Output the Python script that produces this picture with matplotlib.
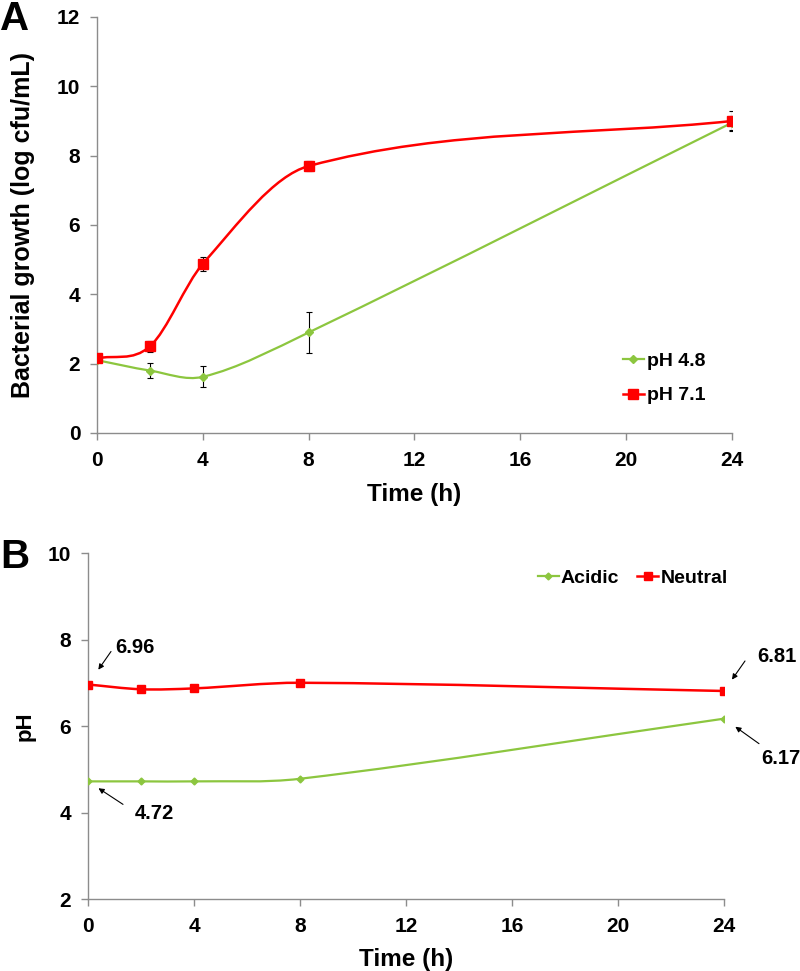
import matplotlib
matplotlib.use("Agg")
import matplotlib.pyplot as plt
from matplotlib.path import Path
from matplotlib.patches import PathPatch
from matplotlib.lines import Line2D
import numpy as np

plt.rcParams['font.family'] = ['Liberation Sans', 'DejaVu Sans']

RED = "#FF0000"
GREEN = "#8CC63F"
AXIS_GRAY = "#8C8C8C"

# panel A: growth
time_a = [0, 2, 4, 8, 24]
growth_acid = [2.1, 1.8, 1.62, 2.9, 8.95]
growth_acid_err = [0.05, 0.22, 0.3, 0.6, 0.2]
growth_neutral = [2.15, 2.5, 4.88, 7.7, 9.0]
growth_neutral_err = [0.05, 0.15, 0.2, 0.15, 0.3]

# panel B: pH of the medium
time_b = [0, 2, 4, 8, 24]
ph_acidic = [4.72, 4.72, 4.72, 4.78, 6.17]
ph_neutral = [6.96, 6.85, 6.87, 7.0, 6.81]

x_ticks = [0, 4, 8, 12, 16, 20, 24]


def smooth_path(x, y):
    # smoothed line like excel: cubic bezier through the points,
    # tangents weighted by the spacing in x
    pts = np.column_stack([x, y]).astype(float)
    n = len(pts)
    tang = []
    for i in range(n):
        a = pts[max(i - 1, 0)]
        b = pts[min(i + 1, n - 1)]
        tang.append((b - a, b[0] - a[0]))
    verts = [pts[0]]
    codes = [Path.MOVETO]
    for i in range(n - 1):
        p1, p2 = pts[i], pts[i + 1]
        h = p2[0] - p1[0]
        m1, w1 = tang[i]
        m2, w2 = tang[i + 1]
        verts += [p1 + m1 * h / w1 / 3, p2 - m2 * h / w2 / 3, p2]
        codes += [Path.CURVE4] * 3
    return Path(verts, codes)


def style_axes(ax, ylim, yticks):
    ax.set_xlim(0, 24)
    ax.set_ylim(*ylim)
    ax.set_xticks(x_ticks)
    ax.set_yticks(yticks)
    for side in ("top", "right"):
        ax.spines[side].set_visible(False)
    for side in ("left", "bottom"):
        ax.spines[side].set_color(AXIS_GRAY)
        ax.spines[side].set_linewidth(1.0)
    ax.tick_params(axis="both", direction="out", length=5, width=1.0,
                   color=AXIS_GRAY, labelsize=15)
    ax.tick_params(axis="x", pad=8)
    ax.tick_params(axis="y", pad=7)
    for lab in ax.get_xticklabels() + ax.get_yticklabels():
        lab.set_fontweight("bold")


fig = plt.figure(figsize=(8, 9.71), dpi=100)
ax_a = fig.add_axes([0.12125, 0.5541, 0.79375, 0.4284])
ax_b = fig.add_axes([0.11, 0.07415, 0.795, 0.3563])

# ---- panel A
ax_a.add_patch(PathPatch(smooth_path(time_a, growth_acid), fill=False,
                         edgecolor=GREEN, lw=1.6, zorder=2))
ax_a.add_patch(PathPatch(smooth_path(time_a, growth_neutral), fill=False,
                         edgecolor=RED, lw=1.8, zorder=2))
ax_a.errorbar(time_a, growth_acid, yerr=growth_acid_err, fmt="none",
              ecolor="black", elinewidth=0.8, capsize=2.5, capthick=0.8, zorder=3)
ax_a.errorbar(time_a, growth_neutral, yerr=growth_neutral_err, fmt="none",
              ecolor="black", elinewidth=0.8, capsize=2.5, capthick=0.8, zorder=3)
ax_a.plot(time_a, growth_acid, ls="none", marker="D", ms=4, color=GREEN, zorder=4)
ax_a.plot(time_a, growth_neutral, ls="none", marker="s", ms=6.5, color=RED, zorder=4)
style_axes(ax_a, (0, 12), [0, 2, 4, 6, 8, 10, 12])
ax_a.set_xlabel("Time (h)", fontsize=17.5, fontweight="bold")
ax_a.set_ylabel("Bacterial growth (log cfu/mL)", fontsize=18, fontweight="bold")
ax_a.xaxis.set_label_coords(0.5, -0.12)
ax_a.yaxis.set_label_coords(-0.097, 0.5)

handles_a = [Line2D([], [], color=GREEN, lw=1.6, marker="D", ms=4),
             Line2D([], [], color=RED, lw=1.8, marker="s", ms=6.5)]
ax_a.legend(handles_a, ["pH 4.8", "pH 7.1"], loc="center left",
            bbox_to_anchor=(0.828, 0.131), frameon=False,
            handlelength=1.1, handletextpad=0.15, labelspacing=0.85,
            borderpad=0, borderaxespad=0, prop={"weight": "bold", "size": 14})

# ---- panel B
ax_b.add_patch(PathPatch(smooth_path(time_b, ph_acidic), fill=False,
                         edgecolor=GREEN, lw=1.6, zorder=2))
ax_b.add_patch(PathPatch(smooth_path(time_b, ph_neutral), fill=False,
                         edgecolor=RED, lw=1.8, zorder=2))
ax_b.plot(time_b, ph_acidic, ls="none", marker="D", ms=3.5, color=GREEN, zorder=4)
ax_b.plot(time_b, ph_neutral, ls="none", marker="s", ms=6, color=RED, zorder=4)
style_axes(ax_b, (2, 10), [2, 4, 6, 8, 10])
ax_b.set_xlabel("Time (h)", fontsize=17.5, fontweight="bold")
ax_b.set_ylabel("pH", fontsize=16, fontweight="bold")
ax_b.xaxis.set_label_coords(0.5, -0.1416)
ax_b.yaxis.set_label_coords(-0.082, 0.5)

handles_b = [Line2D([], [], color=GREEN, lw=1.6, marker="D", ms=3.5),
             Line2D([], [], color=RED, lw=1.8, marker="s", ms=6)]
ax_b.legend(handles_b, ["Acidic", "Neutral"], loc="center left", ncol=2,
            bbox_to_anchor=(0.707, 0.928), frameon=False,
            handlelength=1.1, handletextpad=0.1, columnspacing=0.9,
            borderpad=0, borderaxespad=0, prop={"weight": "bold", "size": 14})

# value call-outs: (series, index, tail offset px, text offset px, tip gap pt)
callouts = [
    (ph_neutral, 0, (23, 33), (47, 37), 13),
    (ph_acidic, 0, (35, -23), (66, -32), 9),
    (ph_neutral, -1, (21, 30), (53, 34), 10),
    (ph_acidic, -1, (35, -25), (57, -40), 10),
]
for series, idx, tail, txt, gap in callouts:
    pt = (time_b[idx], series[idx])
    ax_b.annotate("", xy=pt, xytext=tail, textcoords="offset pixels",
                  arrowprops=dict(arrowstyle="-|>", color="black", lw=0.8,
                                  mutation_scale=8, shrinkA=0, shrinkB=gap),
                  annotation_clip=False)
    ax_b.annotate(f"{series[idx]:.2f}", xy=pt, xytext=txt,
                  textcoords="offset pixels", ha="center", va="center",
                  fontsize=14.5, fontweight="bold", annotation_clip=False)

fig.text(0.0, 1.0, "A", fontsize=29, fontweight="bold", ha="left", va="top")
fig.text(0.0, 0.446, "B", fontsize=29, fontweight="bold", ha="left", va="top")

fig.savefig("out.png", dpi=100)
